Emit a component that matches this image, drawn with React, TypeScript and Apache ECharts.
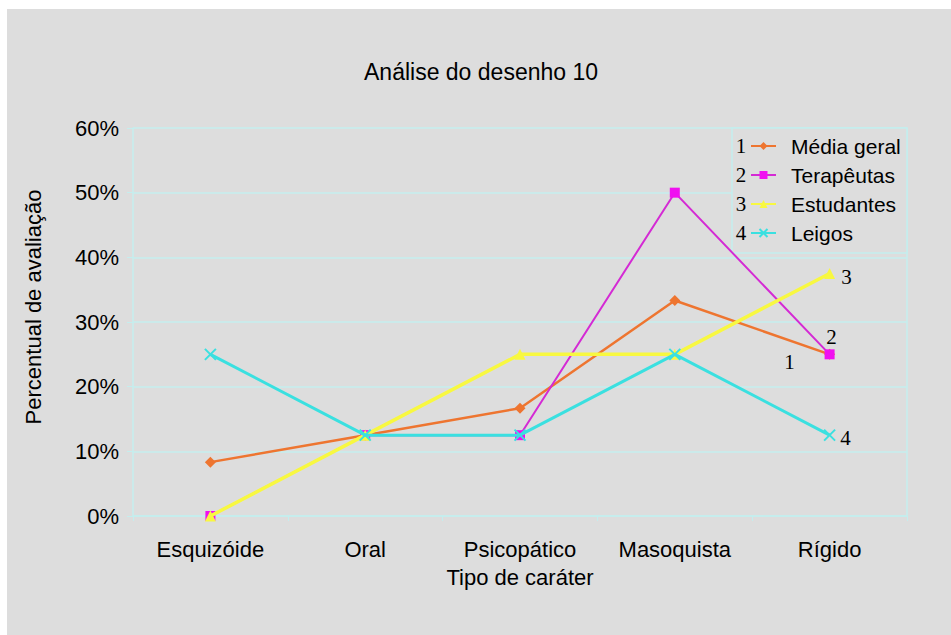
import React, { useEffect, useRef } from "react";
import * as echarts from "echarts";

const categories = ["Esquizóide", "Oral", "Psicopático", "Masoquista", "Rígido"];
const mediaGeral = [8.33, 12.5, 16.67, 33.33, 25];
const terapeutas = [0, 12.5, 12.5, 50, 25];
const estudantes = [0, 12.5, 25, 25, 37.5];
const leigos = [25, 12.5, 12.5, 25, 12.5];
const seriesNames = ["Média geral", "Terapêutas", "Estudantes", "Leigos"];
const endTags = ["1", "2", "3", "4"];

const SANS = "'Liberation Sans', Arial, sans-serif";
const SERIF = "'Liberation Serif', 'Times New Roman', serif";
const GRIDC = "#c4eeee";
const BG = "#dddddd";

function withEndLabel(values: number[], tag: string, offset: number[]) {
  return values.map((v, i) =>
    i === values.length - 1
      ? {
          value: v,
          label: {
            show: true,
            formatter: tag,
            position: "inside",
            offset,
            color: "#000",
            fontFamily: SERIF,
            fontSize: 21,
          },
        }
      : v
  );
}

export default function App() {
  const ref = useRef<HTMLDivElement>(null);
  useEffect(() => {
    if (!ref.current) return;
    const chart = echarts.init(ref.current, null, { renderer: "svg" });
    const legendRows = [146, 175, 204, 233];
    chart.setOption({
      animation: false,
      backgroundColor: "transparent",
      title: {
        text: "Análise do desenho 10",
        left: 364,
        top: 60,
        padding: 0,
        textStyle: { fontFamily: SANS, fontSize: 23, fontWeight: "normal", color: "#000" },
      },
      grid: { left: 133, right: 44, top: 128, bottom: 119, containLabel: false },
      legend: {
        orient: "vertical",
        left: 732,
        top: 128,
        padding: [7, 9, 9, 18],
        itemGap: 7,
        itemWidth: 25,
        itemHeight: 10,
        data: seriesNames,
        textStyle: { fontFamily: SANS, fontSize: 21, color: "#000", lineHeight: 22, padding: [0, 0, 0, 10] },
        z: 5,
      },
      graphic: [
        {
          type: "rect",
          z: 1,
          shape: { x: 732, y: 128, width: 175, height: 125 },
          style: { fill: BG, stroke: GRIDC, lineWidth: 1.5 },
        },
        ...endTags.map((t, i) => ({
          type: "text",
          z: 6,
          x: 741,
          y: legendRows[i],
          style: {
            text: t,
            fontFamily: SERIF,
            fontSize: 21,
            fill: "#000",
            align: "center",
            verticalAlign: "middle",
          },
        })),
        {
          type: "text",
          x: 33,
          y: 307,
          rotation: Math.PI / 2,
          style: {
            text: "Percentual de avaliação",
            fontFamily: SANS,
            fontSize: 22,
            fill: "#000",
            align: "center",
            verticalAlign: "middle",
          },
        },
      ],
      xAxis: {
        type: "category",
        data: categories,
        boundaryGap: true,
        name: "Tipo de caráter",
        nameLocation: "middle",
        nameGap: 50,
        nameTextStyle: { fontFamily: SANS, fontSize: 22, color: "#000" },
        axisLine: { show: true, lineStyle: { color: GRIDC, width: 1.5 } },
        axisTick: { show: true, length: 5, lineStyle: { color: GRIDC } },
        axisLabel: { fontFamily: SANS, fontSize: 22, color: "#000", margin: 22 },
        splitLine: { show: false },
      },
      yAxis: [
        {
          type: "value",
          min: 0,
          max: 60,
          interval: 10,
          axisLine: { show: true, lineStyle: { color: GRIDC, width: 1.5 } },
          axisTick: { show: true, length: 6, lineStyle: { color: GRIDC } },
          axisLabel: { fontFamily: SANS, fontSize: 22, color: "#000", margin: 14, formatter: "{value}%" },
          splitLine: { show: true, lineStyle: { color: GRIDC, width: 1.5 } },
        },
        {
          type: "value",
          min: 0,
          max: 60,
          interval: 10,
          position: "right",
          axisLine: { show: true, lineStyle: { color: GRIDC, width: 1.5 } },
          axisTick: { show: false },
          axisLabel: { show: false },
          splitLine: { show: false },
        },
      ],
      series: [
        {
          name: seriesNames[0],
          type: "line",
          data: withEndLabel(mediaGeral, "1", [-40, 8]),
          symbol: "diamond",
          symbolSize: 11,
          color: "#ee7530",
          lineStyle: { width: 2.5, color: "#ee7530" },
          itemStyle: { color: "#ee7530" },
          z: 2,
        },
        {
          name: seriesNames[1],
          type: "line",
          data: withEndLabel(terapeutas, "2", [2, -17]),
          symbol: "rect",
          symbolSize: 10,
          color: "#e020e0",
          lineStyle: { width: 2, color: "#d42ad4" },
          itemStyle: { color: "#f010f0" },
          z: 3,
        },
        {
          name: seriesNames[2],
          type: "line",
          data: withEndLabel(estudantes, "3", [17, 3]),
          symbol: "triangle",
          symbolSize: 11,
          color: "#f8f840",
          lineStyle: { width: 3.5, color: "#f8f840" },
          itemStyle: { color: "#f8f840" },
          z: 4,
        },
        {
          name: seriesNames[3],
          type: "line",
          data: withEndLabel(leigos, "4", [16, 3]),
          symbol: "path://M0,0L10,10M10,0L0,10",
          symbolSize: 11,
          color: "#3ae0e0",
          lineStyle: { width: 3, color: "#3ae0e0" },
          itemStyle: { color: "#3ae0e0", borderColor: "#3ae0e0", borderWidth: 2 },
          z: 5,
        },
      ],
    });
    return () => chart.dispose();
  }, []);
  return (
    <div style={{ position: "absolute", left: 0, top: 0, width: 951, height: 635, background: "#fff" }}>
      <div style={{ position: "absolute", left: 7, top: 9, right: 0, bottom: 0, background: BG }} />
      <div ref={ref} style={{ position: "absolute", left: 0, top: 0, width: 951, height: 635 }} />
    </div>
  );
}
